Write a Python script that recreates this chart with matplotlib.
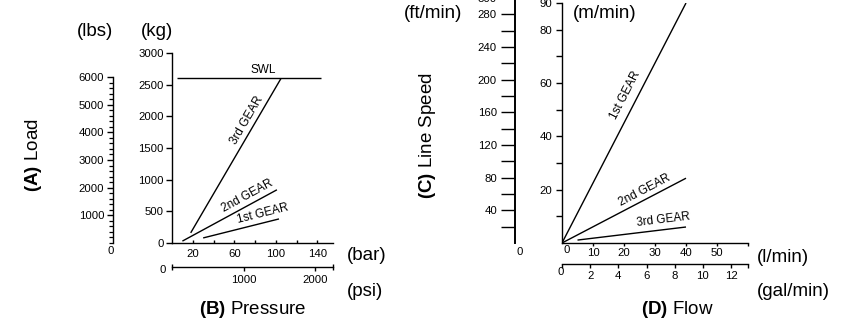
import numpy as np
import matplotlib
matplotlib.use("Agg")
import matplotlib.pyplot as plt

plt.rcParams['font.family'] = ['Liberation Sans', 'DejaVu Sans']
plt.rcParams['mathtext.fontset'] = 'custom'
plt.rcParams['mathtext.rm'] = 'Liberation Sans'
plt.rcParams['mathtext.bf'] = 'Liberation Sans:bold'

# ---------------- data ----------------
# Panel A/B : load (kg) vs pressure (bar)
bar_max = 155
kg_max = 3000
lbs_max = 6000
swl_bar = [5, 143]
swl_kg = [2600, 2600]
gear3_bar = [18, 105]
gear3_kg = [160, 2600]
gear2_bar = [10, 101]
gear2_kg = [30, 840]
gear1_bar = [30, 103]
gear1_kg = [80, 380]

kg_ticks = [0, 500, 1000, 1500, 2000, 2500, 3000]
lbs_ticks = [1000, 2000, 3000, 4000, 5000, 6000]
lbs_minor = list(range(0, 6001, 200))
bar_ticks = [20, 40, 60, 80, 100, 120, 140]
bar_labels = ['20', '', '60', '', '100', '', '140']
psi_ticks = [1000, 2000]
PSI_PER_BAR = 14.5038

# Panel C/D : line speed (m/min) vs flow (l/min)
lpm_max = 60
mpm_max = 90
ftmin_max = 300
f_gear1_lpm = [0, 40]
f_gear1_mpm = [0, 90]
f_gear2_lpm = [0, 40]
f_gear2_mpm = [0, 24.3]
f_gear3_lpm = [5, 40]
f_gear3_mpm = [1.1, 6.0]

ftmin_ticks = list(range(20, 301, 20))
ftmin_labels = [str(v) if (v % 40 == 0 or v == 300) else '' for v in ftmin_ticks]
mpm_ticks = [10, 20, 30, 40, 50, 60, 70, 80, 90]
mpm_labels = ['', '20', '', '40', '', '60', '', '80', '90']
lpm_ticks = [10, 20, 30, 40, 50, 60]
lpm_labels = ['10', '20', '30', '40', '50', '']
gal_ticks = [0, 2, 4, 6, 8, 10, 12]
gal_labels = ['', '2', '4', '6', '8', '10', '12']
LPM_PER_GAL = 4.54609

# ---------------- layout ----------------
W, H = 847, 320
fig = plt.figure(figsize=(W / 100, H / 100), dpi=100)
TICK_FS = 8.2
UNIT_FS = 13.5
GEAR_FS = 8.5
LW = 1.0


def add_ax(x0, x1, yb, yt):
    a = fig.add_axes([x0 / W, 1 - yb / H, (x1 - x0) / W, (yb - yt) / H])
    a.patch.set_alpha(0)
    for s in a.spines.values():
        s.set_visible(False)
        s.set_linewidth(LW)
    return a


def ftext(x, y, s, **kw):
    fig.text(x / W, 1 - y / H, s, **kw)


def gear_label(ax, xs, ys, pos, text, fs=GEAR_FS):
    p0 = ax.transData.transform((xs[0], ys[0]))
    p1 = ax.transData.transform((xs[1], ys[1]))
    ang = np.degrees(np.arctan2(p1[1] - p0[1], p1[0] - p0[0]))
    ax.text(pos[0], pos[1], text, rotation=ang, rotation_mode='anchor',
            ha='center', va='center', fontsize=fs)


# ---- left main axes (kg vs bar)
axA = add_ax(172, 333, 243, 53)
axA.set_xlim(0, bar_max)
axA.set_ylim(0, kg_max)
axA.spines['left'].set_visible(True)
axA.spines['bottom'].set_visible(True)
axA.set_yticks(kg_ticks, labels=[str(v) for v in kg_ticks])
axA.tick_params(axis='y', direction='out', length=4.3, width=LW, pad=1.5,
                labelsize=TICK_FS)
axA.set_xticks(bar_ticks, labels=bar_labels)
axA.tick_params(axis='x', direction='in', length=2.5, width=LW, pad=4.5,
                labelsize=TICK_FS)
for xs, ys in [(swl_bar, swl_kg), (gear3_bar, gear3_kg),
               (gear2_bar, gear2_kg), (gear1_bar, gear1_kg)]:
    axA.plot(xs, ys, color='black', lw=LW, solid_capstyle='butt')
axA.text(88, 2733, 'SWL', ha='center', va='center', fontsize=GEAR_FS)
gear_label(axA, gear3_bar, gear3_kg, (72, 1943), '3rd GEAR')
gear_label(axA, gear2_bar, gear2_kg, (72.4, 742), '2nd GEAR')
gear_label(axA, gear1_bar, gear1_kg, (86.9, 458), '1st GEAR')

# ---- lbs axis
axL = add_ax(113, 114, 243, 77)
axL.set_ylim(0, lbs_max)
axL.set_xticks([])
axL.spines['left'].set_visible(True)
axL.set_yticks(lbs_ticks, labels=[str(v) for v in lbs_ticks])
axL.set_yticks(lbs_minor, minor=True)
axL.tick_params(axis='y', which='major', direction='out', length=4.3,
                width=LW, pad=2, labelsize=TICK_FS)
axL.tick_params(axis='y', which='minor', direction='out', length=2.8,
                width=0.9)
ftext(111, 251, '0', ha='center', va='center', fontsize=TICK_FS)

# ---- psi axis
axP = add_ax(172, 333, 267, 266)
axP.set_xlim(0, bar_max * PSI_PER_BAR)
axP.set_yticks([])
axP.spines['bottom'].set_visible(True)
axP.set_xticks(psi_ticks, labels=[str(v) for v in psi_ticks])
axP.tick_params(axis='x', direction='out', length=3, width=LW, pad=3,
                labelsize=TICK_FS)
axP.set_xticks([0, bar_max * PSI_PER_BAR], minor=True)
axP.tick_params(axis='x', which='minor', direction='inout', length=4, width=LW)
ftext(166, 270, '0', ha='right', va='center', fontsize=TICK_FS)

ftext(95, 32, '(lbs)', ha='center', va='center', fontsize=UNIT_FS)
ftext(157, 32, '(kg)', ha='center', va='center', fontsize=UNIT_FS)
ftext(33, 155, r'$\mathbf{(A)}$ Load', ha='center', va='center',
      fontsize=UNIT_FS, rotation=90)
ftext(347, 256, '(bar)', ha='left', va='center', fontsize=UNIT_FS)
ftext(347, 291, '(psi)', ha='left', va='center', fontsize=UNIT_FS)
ftext(253, 310, r'$\mathbf{(B)}$ Pressure', ha='center', va='center',
      fontsize=UNIT_FS)

# ---- right main axes (m/min vs l/min)
axD = add_ax(562, 748, 243, 3)
axD.set_xlim(0, lpm_max)
axD.set_ylim(0, mpm_max)
axD.spines['left'].set_visible(True)
axD.spines['bottom'].set_visible(True)
axD.set_yticks(mpm_ticks, labels=mpm_labels)
axD.tick_params(axis='y', direction='out', length=4, width=LW, pad=3,
                labelsize=TICK_FS)
axD.set_xticks(lpm_ticks, labels=lpm_labels)
axD.tick_params(axis='x', direction='out', length=2.5, width=LW, pad=1,
                labelsize=TICK_FS)
for xs, ys in [(f_gear1_lpm, f_gear1_mpm), (f_gear2_lpm, f_gear2_mpm),
               (f_gear3_lpm, f_gear3_mpm)]:
    axD.plot(xs, ys, color='black', lw=LW, solid_capstyle='butt')
gear_label(axD, f_gear1_lpm, f_gear1_mpm, (20.3, 55.5), '1st GEAR')
gear_label(axD, f_gear2_lpm, f_gear2_mpm, (26.8, 19.9), '2nd GEAR')
gear_label(axD, f_gear3_lpm, f_gear3_mpm, (32.6, 8.6), '3rd GEAR')
ftext(567, 250, '0', ha='center', va='center', fontsize=TICK_FS)

# ---- ft/min axis
ft_px = 0.817
axF = add_ax(515, 516, 243, 243 - ftmin_max * ft_px)
axF.set_ylim(0, ftmin_max)
axF.set_xticks([])
axF.spines['left'].set_visible(True)
axF.spines['left'].set_linewidth(1.4)
axF.set_yticks(ftmin_ticks, labels=ftmin_labels)
axF.tick_params(axis='y', direction='out', length=10, width=LW, pad=3,
                labelsize=TICK_FS)
ftext(520, 252, '0', ha='center', va='center', fontsize=TICK_FS)

# ---- gal/min axis
axG = add_ax(562, 748, 264, 263)
axG.set_xlim(0, lpm_max / LPM_PER_GAL)
axG.set_yticks([])
axG.spines['bottom'].set_visible(True)
axG.set_xticks(gal_ticks, labels=gal_labels)
axG.tick_params(axis='x', direction='out', length=3, width=LW, pad=2,
                labelsize=TICK_FS)
axG.set_xticks([lpm_max / LPM_PER_GAL], minor=True)
axG.tick_params(axis='x', which='minor', direction='out', length=3, width=LW)
ftext(561, 272, '0', ha='center', va='center', fontsize=TICK_FS)

ftext(433, 13, '(ft/min)', ha='center', va='center', fontsize=UNIT_FS)
ftext(605, 13, '(m/min)', ha='center', va='center', fontsize=UNIT_FS)
ftext(427, 136, r'$\mathbf{(C)}$ Line Speed', ha='center', va='center',
      fontsize=UNIT_FS, rotation=90)
ftext(757, 257, '(l/min)', ha='left', va='center', fontsize=UNIT_FS)
ftext(757, 291, '(gal/min)', ha='left', va='center', fontsize=UNIT_FS)
ftext(677, 310, r'$\mathbf{(D)}$ Flow', ha='center', va='center',
      fontsize=UNIT_FS)

fig.savefig('out.png', dpi=100)
